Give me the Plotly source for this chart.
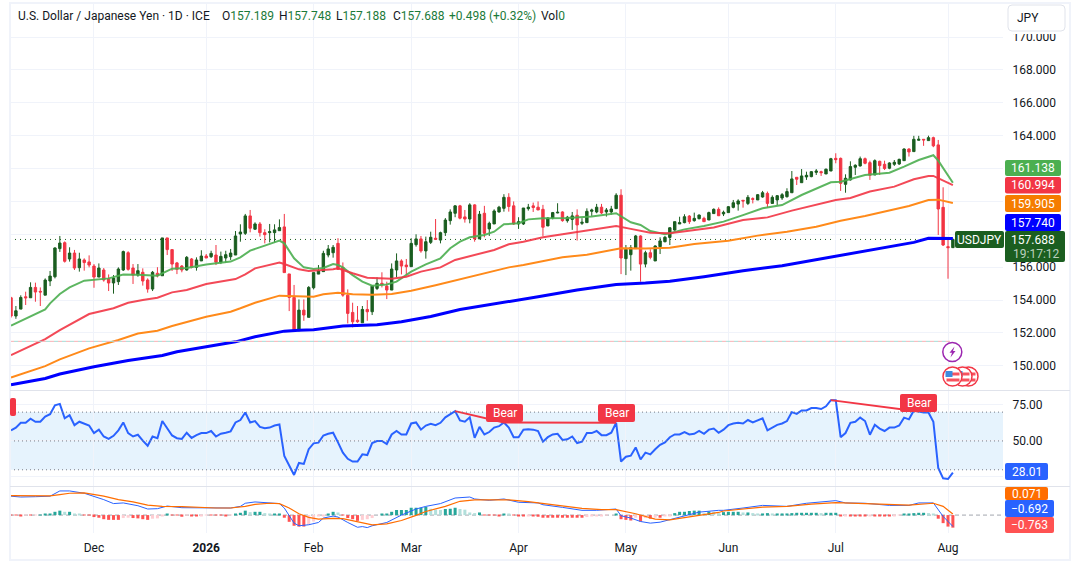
import pandas as pd
import plotly.graph_objects as go
from plotly.subplots import make_subplots

W, H = 1080, 577

# daily candles
opens = [
    154.14,153.03,153.45,154.2,154.14,154.77,154.53,154.3,155.16,155.42,
    157.13,157.49,156.5,156.86,155.97,156.44,156.32,156.07,155.4,155.83,
    155.3,155.04,155.12,155.83,156.88,155.95,155.52,155.69,155.22,154.67,
    155.63,155.48,157.78,157.07,156.26,156.07,155.83,156.5,155.99,156.38,
    156.68,156.64,156.74,156.3,156.56,156.64,156.74,158.02,158.06,159.12,
    158.31,158.63,158.1,158.1,158.1,158.22,158.45,155.59,154.16,152.13,
    153.39,152.95,154.75,155.58,155.73,156.74,156.88,157.45,155.99,154.3,
    153.25,152.78,152.62,153.43,153.29,154.71,155.02,154.85,154.61,155.83,
    156.38,156.13,156.03,157.37,157.72,156.99,157.51,157.76,157.65,158.1,
    158.83,159.28,159.73,159.06,158.93,159.79,157.72,159.28,158.33,158.63,
    159.36,159.58,160.25,159.73,158.63,158.63,159.56,159.73,159.65,159.52,
    158.51,158.99,159.3,159.36,158.83,158.91,159.16,158.67,158.71,159.4,
    159.36,159.65,159.36,159.36,159.56,160.38,156.52,156.76,157.13,157.9,
    156.19,156.88,156.38,157.25,157.55,157.81,158.26,158.63,158.71,159.11,
    158.83,158.95,158.97,158.87,159.26,159.52,159.24,159.32,159.64,159.84,
    160.07,159.88,160.17,160.09,160.27,160.49,159.88,160.09,160.21,160.29,
    160.53,161.47,161.14,161.49,161.51,161.77,161.81,161.67,161.85,162.62,
    162.62,161.04,161.31,162.08,162.16,162.6,162.36,161.61,162.44,162.26,
    162.02,162.26,162.28,162.48,163.19,163.03,163.72,163.78,163.7,163.88,
    163.44,159.64,157.25,157.189,
]
highs = [
    154.2,153.64,154.29,154.51,155.08,155.06,154.77,155.32,155.77,157.21,
    157.9,157.57,157.21,157.05,156.88,156.54,156.72,156.19,156.23,155.95,
    155.56,155.52,155.99,157.01,156.97,156.19,156.19,155.93,155.32,155.77,
    156.0,157.78,157.78,157.07,156.32,156.13,156.68,156.56,156.6,157.03,
    156.8,157.0,157.35,156.95,157.0,157.11,158.2,158.61,159.24,159.48,
    158.73,158.75,158.31,158.63,158.61,158.91,159.24,155.59,154.92,154.04,
    154.04,154.85,155.67,156.13,157.0,157.35,157.35,157.76,156.29,154.65,
    153.84,153.64,153.64,154.0,154.9,155.38,155.69,155.12,156.23,156.84,
    156.48,156.5,157.76,158.0,157.9,157.86,158.16,158.93,158.16,158.99,
    159.52,159.77,159.79,159.48,159.89,159.83,159.42,159.73,158.77,159.52,
    159.73,160.44,160.5,160.0,159.04,159.6,159.85,159.93,160.0,159.79,
    159.04,159.36,159.89,159.4,159.12,159.36,159.52,158.98,159.58,159.56,
    159.85,159.85,159.6,159.73,160.5,160.74,157.35,157.35,157.96,157.94,
    157.0,157.09,157.33,157.82,157.9,158.42,158.77,159.07,159.22,159.17,
    159.32,159.21,159.07,159.38,159.58,159.64,159.44,159.72,160.09,160.13,
    160.07,160.39,160.25,160.45,160.64,160.6,160.37,160.39,160.51,160.8,
    161.85,161.47,161.97,161.81,161.85,161.97,161.87,162.0,162.65,162.93,
    162.67,161.65,162.44,162.26,162.73,162.67,162.48,162.56,162.48,162.48,
    162.38,162.52,162.6,163.23,163.23,163.99,163.99,163.78,164.0,163.94,
    163.74,160.86,157.8,157.748,
]
lows = [
    152.93,152.86,153.45,153.7,154.14,153.9,153.64,154.3,154.85,155.32,
    156.93,156.28,156.34,155.83,155.73,155.79,155.99,154.75,155.4,155.12,
    154.55,154.39,154.92,155.77,155.79,154.98,155.42,154.88,154.45,154.55,
    155.38,155.48,156.74,155.77,155.58,155.69,155.79,155.93,155.79,156.38,
    156.56,156.56,156.13,156.19,156.28,156.44,156.74,157.55,157.96,158.12,
    158.27,157.86,157.45,157.51,157.51,158.22,155.67,153.33,152.13,152.13,
    152.74,152.95,154.65,155.58,155.73,156.6,156.58,155.87,154.2,152.58,
    152.34,152.62,152.62,152.74,153.09,154.61,154.77,154.06,154.61,155.38,
    155.56,155.52,156.03,157.25,156.88,156.52,157.41,157.65,157.45,157.9,
    158.59,159.04,158.91,158.71,158.67,157.55,157.72,157.82,157.9,158.63,
    159.32,159.38,159.38,158.57,158.33,158.57,159.44,159.36,159.48,157.9,
    158.51,158.91,159.28,158.77,158.71,158.27,157.62,158.57,158.71,159.12,
    159.28,159.24,159.08,159.2,159.56,155.58,155.52,155.79,157.13,155.12,
    155.99,156.48,156.38,156.8,157.51,157.35,158.22,158.63,158.67,158.63,
    158.77,158.91,158.75,158.87,159.24,159.11,159.11,159.32,159.58,159.44,
    159.62,159.78,159.88,160.09,160.23,159.64,159.88,159.78,160.09,160.23,
    160.53,161.0,161.14,161.31,161.47,161.61,161.55,161.67,161.85,162.32,
    160.64,160.53,161.27,161.61,162.12,162.26,161.31,161.61,161.61,161.91,
    161.96,162.16,162.22,162.48,162.73,163.03,163.7,163.38,163.7,163.3,
    157.96,157.29,155.3,157.188,
]
closes = [
    153.03,153.35,154.16,154.14,154.77,154.49,154.49,155.22,155.46,157.17,
    157.47,156.36,156.86,155.95,156.5,156.28,156.13,155.4,155.95,155.22,
    155.04,155.34,155.89,156.95,155.87,155.52,155.79,155.16,154.67,155.69,
    155.48,157.78,157.07,156.19,155.87,155.83,156.6,155.99,156.44,156.68,
    156.56,156.84,156.3,156.66,156.76,156.86,157.9,158.14,159.12,158.37,
    158.63,158.1,157.98,158.16,158.27,158.41,155.67,154.16,152.13,153.39,
    153.09,154.77,155.67,155.79,156.84,157.11,157.21,155.87,154.3,153.19,
    152.68,152.68,153.43,153.29,154.85,155.02,154.94,154.61,155.89,156.38,
    156.07,156.03,157.45,157.72,156.99,157.55,157.82,157.7,158.1,158.87,
    159.36,159.73,158.98,158.93,159.79,157.72,159.22,158.06,158.67,159.42,
    159.65,160.25,159.69,158.63,158.77,159.6,159.65,159.63,159.48,158.43,
    158.99,159.32,159.34,158.83,159.04,159.12,158.57,158.73,159.4,159.48,
    159.65,159.3,159.48,159.54,160.38,156.56,157.09,157.19,157.9,156.19,
    156.88,156.6,157.29,157.6,157.82,158.4,158.77,158.71,159.07,158.77,
    158.97,159.17,158.77,159.32,159.52,159.13,159.34,159.68,159.92,160.03,
    160.03,160.25,160.13,160.41,160.53,159.88,160.25,160.35,160.41,160.6,
    161.37,161.35,161.55,161.59,161.81,161.85,161.75,161.96,162.6,162.54,
    161.1,161.41,162.12,162.2,162.6,162.32,161.59,162.48,162.18,162.0,
    162.34,162.38,162.56,163.19,163.01,163.78,163.78,163.74,163.88,163.38,
    159.54,157.35,157.19,157.688,
]

# moving averages, read at the bends of each line
ma_green_idx = [0,7,8,10,12,15,20,23,26,30,33,36,40,45,47,49,52,55,56,58,60,62,64,66,67,68,70,72,74,77,79,82,85,88,90,92,94,97,99,101,104,106,109,114,119,124,127,129,131,134,135,138,142,146,150,154,158,162,168,170,175,180,183,186,189,190,193]
ma_green = [152.44,153.43,153.8,154.37,154.77,155.18,155.32,155.56,155.54,155.48,155.91,155.95,156.17,156.34,156.6,157.01,157.31,157.62,157.45,156.54,155.99,155.89,155.95,156.19,156.13,155.99,155.52,155.12,154.87,154.95,155.12,155.73,156.17,156.54,157.15,157.55,157.82,157.96,158.16,158.61,158.67,158.91,158.98,159.0,159.08,159.28,158.73,158.57,158.2,158.0,158.06,158.3,158.5,158.77,159.17,159.58,159.78,160.39,161.16,161.2,161.61,161.75,162.12,162.52,162.81,162.48,161.138]
ma_red_idx = [0,3,7,10,13,16,21,24,27,30,33,36,40,46,48,50,55,56,59,61,66,67,70,73,78,81,84,88,91,95,99,102,105,109,115,119,124,127,131,135,139,144,150,155,160,165,169,172,176,181,185,188,189,193]
ma_red = [150.65,151.06,151.63,152.17,152.64,153.15,153.5,153.84,154.0,154.14,154.47,154.61,154.98,155.28,155.56,155.93,156.28,156.19,155.87,155.77,155.87,155.93,155.63,155.36,155.3,155.42,155.73,155.99,156.44,156.74,157.05,157.39,157.55,157.82,158.1,158.31,158.51,158.33,158.1,158.06,158.2,158.42,158.87,159.03,159.44,159.78,160.09,160.21,160.6,160.9,161.35,161.55,161.55,160.994]
ma_orange_idx = [0,7,10,16,22,26,30,33,40,45,47,50,55,58,62,64,67,70,74,78,82,87,90,94,98,102,105,109,113,118,122,125,130,135,140,147,153,159,165,170,175,180,184,188,190,193]
ma_orange = [149.29,149.98,150.39,151.06,151.57,151.97,152.13,152.42,152.99,153.29,153.5,153.84,154.27,154.25,154.2,154.35,154.45,154.35,154.33,154.37,154.57,154.9,155.12,155.42,155.67,155.99,156.13,156.38,156.6,156.76,157.0,157.15,157.13,157.18,157.41,157.61,157.92,158.16,158.46,158.83,159.11,159.44,159.72,160.09,160.11,159.905]
ma_blue_idx = [0,7,10,17,24,31,34,40,46,50,56,59,62,68,75,80,86,92,100,108,116,124,130,135,142,150,158,165,170,175,180,185,188,190,193]
ma_blue = [148.85,149.23,149.5,149.94,150.33,150.63,150.86,151.18,151.46,151.77,152.11,152.17,152.19,152.42,152.5,152.68,153.0,153.43,153.8,154.2,154.61,154.95,155.04,155.15,155.42,155.78,156.09,156.47,156.74,156.98,157.25,157.51,157.76,157.77,157.74]

rsi = [
    57.37,59.27,62.6,62.6,65.46,63.32,63.32,66.89,68.56,74.74,75.7,65.7,67.84,60.94,63.32,62.13,60.7,55.47,
    57.85,53.09,51.42,53.56,57.37,62.84,55.47,53.09,54.28,50.23,46.66,53.09,51.9,63.8,58.56,53.8,51.9,51.42,
    55.7,52.13,54.04,55.47,55.47,56.9,53.09,55.0,55.7,56.66,62.84,64.51,69.75,62.84,63.8,59.75,58.8,59.27,
    60.7,61.42,39.52,33.09,26.43,34.76,34.05,44.28,48.33,48.8,53.8,55.0,55.7,49.04,41.9,37.6,35.71,35.71,
    40.71,40.23,48.56,49.99,49.99,47.85,54.51,56.9,54.51,54.51,62.13,62.84,57.85,60.7,61.89,60.94,62.6,66.41,
    68.56,70.7,64.27,63.32,66.41,52.13,59.75,54.51,56.18,59.27,60.23,62.84,59.27,52.61,52.61,57.85,58.08,57.85,
    56.9,49.52,52.61,54.51,54.99,50.71,51.18,53.09,48.56,49.52,55.47,55.47,56.9,54.04,54.04,55.7,62.6,35.71,
    39.04,39.76,45.47,37.14,41.9,40.71,44.28,47.37,49.04,52.61,54.51,54.51,56.18,54.51,54.99,56.9,54.99,57.85,
    58.56,55.7,57.86,60.95,62.14,62.62,62.14,64.52,62.85,64.52,65.71,57.38,59.28,61.19,62.14,63.81,70.0,68.8,
    71.18,71.18,72.85,72.85,72.14,74.04,78.32,78.32,52.62,55.48,62.62,63.33,66.19,63.81,54.29,61.19,58.57,56.9,
    59.28,59.28,60.71,66.19,64.99,71.18,70.47,69.76,69.76,63.33,31.2,24.06,23.58,28.01,
]
# divergence lines on the RSI, each as two bar index / value pairs
bear_lines = [((91, 70.7), (101, 62.84)), ((101, 62.84), (124, 62.6)), ((168, 78.32), (186, 70.47))]

macd_idx = [0,2,5,8,10,12,15,17,19,21,23,26,28,30,32,35,39,42,45,47,48,50,52,55,56,57,58,59,61,63,64,66,67,69,71,
            72,73,74,77,80,83,85,88,91,94,95,98,101,104,108,109,113,117,120,124,125,127,129,131,133,136,138,141,145,
            146,150,154,159,163,169,171,175,180,184,186,189,191,193]
macd = [1.15,1.1,1.12,1.15,1.47,1.47,1.33,1.15,0.94,0.7,0.74,0.57,0.37,0.39,0.55,0.45,0.43,0.41,0.43,0.53,0.72,0.8,0.76,0.7,0.43,-0.04,-0.49,-0.65,-0.59,-0.45,-0.18,-0.06,-0.12,-0.45,-0.74,
        -0.7,-0.76,-0.65,-0.45,0.0,0.37,0.53,0.7,1.04,1.1,0.98,0.9,0.98,0.78,0.74,0.63,0.47,0.29,0.29,0.37,-0.04,-0.18,-0.39,-0.49,-0.43,-0.2,-0.04,0.18,0.29,
        0.29,0.43,0.59,0.53,0.72,0.88,0.74,0.72,0.59,0.59,0.74,0.74,-0.08,-0.692]
signal_idx = [0,5,8,10,12,15,17,19,22,25,28,31,35,39,42,45,48,50,53,55,57,59,61,63,66,68,70,
              72,74,77,80,83,85,89,92,95,99,102,106,109,113,117,121,124,128,132,135,140,145,
              146,150,154,159,164,169,175,180,184,189,191,193]
signal = [1.19,1.15,1.17,1.25,1.33,1.35,1.27,1.15,0.94,0.8,0.61,0.53,0.51,0.45,0.43,0.43,0.53,0.65,0.72,0.7,0.43,0.08,-0.14,-0.25,-0.2,-0.22,-0.35,
          -0.49,-0.59,-0.53,-0.33,-0.02,0.22,0.53,0.84,0.92,0.9,0.92,0.82,0.7,0.57,0.41,0.33,0.33,0.08,-0.25,-0.29,-0.08,0.16,
          0.25,0.37,0.49,0.53,0.67,0.76,0.7,0.61,0.61,0.72,0.53,0.071]
hist = [
    -0.02,-0.02,-0.03,-0.02,-0.02,-0.01,0.02,0.04,0.08,0.2,0.27,0.2,0.2,0.08,0.06,-0.02,-0.02,-0.12,
    -0.16,-0.25,-0.29,-0.29,-0.29,-0.18,-0.16,-0.18,-0.2,-0.25,-0.29,-0.22,-0.2,-0.04,0.08,-0.02,-0.02,-0.1,
    -0.02,-0.04,-0.08,-0.04,-0.02,-0.02,-0.02,-0.02,-0.04,-0.02,0.08,0.14,0.27,0.18,0.2,0.2,0.12,0.08,
    0.08,0.08,-0.16,-0.41,-0.65,-0.7,-0.7,-0.59,-0.39,-0.08,-0.04,0.08,0.2,0.16,-0.02,-0.18,-0.25,-0.35,
    -0.29,-0.25,-0.18,0.0,0.06,0.08,0.2,0.31,0.31,0.31,0.45,0.45,0.45,0.49,0.39,0.33,0.31,0.37,
    0.39,0.45,0.37,0.33,0.16,0.12,0.16,-0.02,-0.02,-0.02,-0.04,0.08,0.04,-0.02,-0.08,-0.08,-0.06,-0.06,
    -0.1,-0.16,-0.16,-0.16,-0.16,-0.16,-0.16,-0.16,-0.16,-0.16,-0.12,-0.08,-0.06,-0.04,-0.02,0.0,0.08,-0.25,
    -0.29,-0.33,-0.16,-0.39,-0.18,-0.22,-0.16,-0.16,-0.08,-0.04,0.12,0.2,0.2,0.25,0.27,0.27,0.12,0.22,
    0.2,0.12,0.18,0.2,0.2,0.2,0.16,0.16,0.12,0.1,0.1,0.12,0.1,0.1,0.1,0.1,0.12,0.14,
    0.14,0.14,0.14,0.14,0.12,0.14,0.14,0.14,-0.08,-0.04,-0.04,-0.04,-0.04,-0.08,-0.04,-0.08,-0.08,-0.08,
    -0.08,-0.06,-0.02,0.08,0.08,0.12,0.14,0.14,0.12,0.08,-0.22,-0.49,-0.7,-0.763,
]

month_labels = ["Dec", "<b>2026</b>", "Feb", "Mar", "Apr", "May", "Jun", "Jul", "Aug"]
month_dates = ["2025-12-01", "2026-01-01", "2026-02-02", "2026-03-02", "2026-04-01", "2026-05-01", "2026-06-01", "2026-07-01", "2026-08-03"]
price_ticks = [150, 152, 154, 156, 158, 160, 162, 164, 166, 168, 170]
# 158 to 162 sit behind the value tags
price_labels = ["150.000", "152.000", "154.000", "156.000", "", "", "", "164.000", "166.000", "168.000", "170.000"]

GRID = "#f0f3fa"
SEP = "#e0e3eb"
TXT = "#131722"
FONT = "Roboto"
UP = "#1b5e20"
DOWN = "#f23645"

# bars run on weekdays only, the axis is drawn on the bar number
dates = pd.bdate_range("2025-11-06", periods=len(closes))
bars = list(range(len(closes)))
month_ticks = [list(dates).index(pd.Timestamp(d)) for d in month_dates]


def px(x):
    return x / W


def py(y):
    return 1 - y / H


def rrect(x0, y0, x1, y1, r=2):
    # rounded box, in pixels of the page
    pts = f"M{px(x0+r)},{py(y0)} L{px(x1-r)},{py(y0)} Q{px(x1)},{py(y0)} {px(x1)},{py(y0+r)} "
    pts += f"L{px(x1)},{py(y1-r)} Q{px(x1)},{py(y1)} {px(x1-r)},{py(y1)} "
    pts += f"L{px(x0+r)},{py(y1)} Q{px(x0)},{py(y1)} {px(x0)},{py(y1-r)} "
    pts += f"L{px(x0)},{py(y0+r)} Q{px(x0)},{py(y0)} {px(x0+r)},{py(y0)} Z"
    return pts


fig = make_subplots(rows=3, cols=1, shared_xaxes=True)

fig.add_trace(go.Scatter(x=ma_green_idx, y=ma_green, mode="lines", line=dict(color="#4caf50", width=2), opacity=0.9), row=1, col=1)
fig.add_trace(go.Scatter(x=ma_red_idx, y=ma_red, mode="lines", line=dict(color="#f23645", width=2), opacity=0.9), row=1, col=1)
fig.add_trace(go.Scatter(x=ma_orange_idx, y=ma_orange, mode="lines", line=dict(color="#ff8a1a", width=2)), row=1, col=1)
fig.add_trace(go.Scatter(x=ma_blue_idx, y=ma_blue, mode="lines", line=dict(color="#0000ff", width=3)), row=1, col=1)
fig.add_trace(go.Candlestick(
    x=bars, open=opens, high=highs, low=lows, close=closes,
    increasing=dict(line=dict(color=UP, width=1), fillcolor=UP),
    decreasing=dict(line=dict(color=DOWN, width=1), fillcolor=DOWN),
    whiskerwidth=0,
), row=1, col=1)

fig.add_trace(go.Scatter(x=bars, y=rsi, mode="lines", line=dict(color="#2962ff", width=2)), row=2, col=1)
for a, b in bear_lines:
    fig.add_trace(go.Scatter(x=[a[0], b[0]], y=[a[1], b[1]], mode="lines", line=dict(color=DOWN, width=2)), row=2, col=1)

# histogram colour follows sign and direction
hist_colors = []
for i, v in enumerate(hist):
    prev = hist[i - 1] if i else 0
    if v >= 0:
        hist_colors.append("#26a69a" if v >= prev else "#b2dfdb")
    else:
        hist_colors.append("#ff5252" if v <= prev else "#ffcdd2")
fig.add_trace(go.Bar(x=bars, y=hist, marker=dict(color=hist_colors, line_width=0), width=0.62), row=3, col=1)
fig.add_trace(go.Scatter(x=macd_idx, y=macd, mode="lines", line=dict(color="#2962ff", width=1)), row=3, col=1)
fig.add_trace(go.Scatter(x=signal_idx, y=signal, mode="lines", line=dict(color="#ff6d00", width=1.2)), row=3, col=1)

shapes = []
# dashed and dotted levels on the price pane, pink and teal dashes take turns
shapes.append(dict(type="line", xref="paper", yref="y", x0=px(10), x1=px(950), y0=151.49, y1=151.49, line=dict(color="#f7b0b5", width=1, dash="4px,4px")))
shapes.append(dict(type="line", xref="paper", yref="y", x0=px(14), x1=px(950), y0=151.49, y1=151.49, line=dict(color="#a5dbd4", width=1, dash="4px,4px")))
shapes.append(dict(type="line", xref="paper", yref="y", x0=px(10), x1=px(955), y0=157.688, y1=157.688, line=dict(color=UP, width=1, dash="1px,4px"), layer="below"))
# RSI band
shapes.append(dict(type="rect", xref="paper", yref="y2", x0=px(10), x1=px(1003), y0=30, y1=70, fillcolor="#e3f2fd", line_width=0, layer="below", opacity=0.9))
for level in [70, 50, 30]:
    shapes.append(dict(type="line", xref="paper", yref="y2", x0=px(10), x1=px(1003), y0=level, y1=level, line=dict(color="#787b86", width=1, dash="1px,3px")))
# MACD zero
shapes.append(dict(type="line", xref="paper", yref="y3", x0=px(10), x1=px(1003), y0=0, y1=0, line=dict(color="#a3a6af", width=1, dash="4px,3px"), layer="below"))

# frame and pane separators
shapes.append(dict(type="rect", xref="paper", yref="paper", x0=px(10), x1=px(1070), y0=py(560), y1=py(3), line=dict(color=GRID, width=2)))
for y in [390.5, 486.5]:
    shapes.append(dict(type="line", xref="paper", yref="paper", x0=px(10), x1=px(1070), y0=py(y), y1=py(y), line=dict(color=SEP, width=1)))

annotations = []


def note(x, y, text, color=TXT, anchor="center"):
    annotations.append(dict(xref="paper", yref="paper", x=px(x), y=py(y), text=text, showarrow=False,
                            xanchor=anchor, yanchor="middle", font=dict(family=FONT, size=12, color=color)))


def tag(x0, y0, x1, y1, color, label):
    shapes.append(dict(type="path", xref="paper", yref="paper", path=rrect(x0, y0, x1, y1), fillcolor=color, line_width=0))
    if label:
        note((x0 + x1) / 2, (y0 + y1) / 2, label, "white")


# JPY box on top of the axis, it cuts the top off the 170 label
shapes.append(dict(type="rect", xref="paper", yref="paper", x0=px(1006), x1=px(1066), y0=py(34), y1=py(28), fillcolor="white", line_width=0))
shapes.append(dict(type="path", xref="paper", yref="paper", path=rrect(1008, 5, 1065, 31, 4), fillcolor="white", line=dict(color=SEP, width=1)))
note(1015, 18, "JPY", anchor="left")

tag(1005, 160, 1061, 176, "#4caf50", "161.138")
tag(1005, 177, 1061, 193.5, DOWN, "160.994")
tag(1005, 195, 1061, 212, "#f57c00", "159.905")
tag(1005, 214, 1061, 231, "#0000ff", "157.740")
tag(955, 231, 1004, 248, UP, "USDJPY")
tag(1005, 231, 1065, 262, UP, "")
note(1033, 239.5, "157.688", "white")
note(1036, 253.5, "19:17:12", "#bcd0be")

tag(1005, 463, 1048, 480, "#2962ff", "28.01")
tag(1005, 487, 1048, 500, "#ff6d00", "0.071")
tag(1005, 500, 1054, 517, "#2962ff", "\u22120.692")
tag(1005, 517, 1054, 533, "#ff5252", "\u22120.763")

tag(486, 404, 523, 422, DOWN, "Bear")
tag(598, 404, 635, 422, DOWN, "Bear")
tag(900, 394, 937, 412, DOWN, "Bear")
tag(10, 398, 16, 416, DOWN, "")

# header line
note(15.5, 16, "U.S. Dollar / Japanese Yen \u00b7 1D \u00b7 ICE", anchor="left")
head_green = "#1b7a3a"
for x, lab, val in [(220, "O", "157.189"), (277, "H", "157.748"), (334, "L", "157.188"), (391, "C", "157.688")]:
    note(x, 16, f"{lab}<span style='color:{head_green}'>{val}</span>", anchor="left")
note(447, 16, "+0.498 (+0.32%)", head_green, anchor="left")
note(539, 16, f"Vol<span style='color:{head_green}'>0</span>", anchor="left")


def circle(cx, cy, r, line, fill="white", w=1.5):
    shapes.append(dict(type="circle", xref="paper", yref="paper", x0=px(cx - r), x1=px(cx + r), y0=py(cy + r), y1=py(cy - r),
                       fillcolor=fill, line=dict(color=line, width=w)))


def box(x0, y0, x1, y1, color):
    shapes.append(dict(type="rect", xref="paper", yref="paper", x0=px(x0), x1=px(x1), y0=py(y1), y1=py(y0), fillcolor=color, line_width=0))


# economic calendar icons under the last bars
circle(952.3, 352, 9.5, "#9c27b0")
bolt = [(954.5, 346.5), (949.5, 352.8), (952, 352.8), (950.5, 357.5), (955.5, 351), (953, 351)]
shapes.append(dict(type="path", xref="paper", yref="paper", fillcolor="#9c27b0", line_width=0,
                   path="M" + " L".join(f"{px(a)},{py(b)}" for a, b in bolt) + " Z"))
for cx in [968.5, 962.5, 952.5]:
    circle(cx, 376.5, 9.5, DOWN)
    box(cx - 6, 372.5, cx + 7, 375.5, "#f7525f")
    box(cx - 6, 378.5, cx + 7, 381.5, "#f7525f")
    box(cx - 7, 371, cx, 377, "#3d8bdf")

fig.update_layout(
    width=W, height=H, margin=dict(l=0, r=0, t=0, b=0),
    paper_bgcolor="white", plot_bgcolor="white",
    showlegend=False, hovermode=False, dragmode=False, bargap=0.35,
    font=dict(family=FONT, size=12, color=TXT),
    shapes=shapes, annotations=annotations,
)

x_range = [-0.21, 203.27]
for r in (1, 2, 3):
    fig.update_xaxes(row=r, col=1, domain=[px(10), px(1003)], range=x_range, tickmode="array", tickvals=month_ticks,
                     ticktext=month_labels, showgrid=True, gridcolor=GRID, gridwidth=1, zeroline=False,
                     showline=False, rangeslider_visible=False, fixedrange=True)
fig.update_xaxes(row=3, col=1, showticklabels=True, ticks="outside", ticklen=4, tickcolor="rgba(0,0,0,0)",
                 tickfont=dict(family=FONT, size=12, color=TXT))

axis_common = dict(side="right", showline=False, zeroline=False, gridcolor=GRID, gridwidth=1, fixedrange=True,
                   ticks="outside", ticklen=6, tickcolor="rgba(0,0,0,0)", tickfont=dict(family=FONT, size=12, color=TXT))
fig.update_yaxes(row=1, col=1, domain=[py(390.5), py(3)], range=[148.5, 172.07], tickvals=price_ticks,
                 ticktext=price_labels, **axis_common)
fig.update_yaxes(row=2, col=1, domain=[py(486.5), py(390.5)], range=[18.4, 85], tickvals=[25, 50, 75],
                 ticktext=["", "50.00", "75.00"], **axis_common)
fig.update_yaxes(row=3, col=1, domain=[py(533), py(486.5)], range=[-1.09, 1.74], showticklabels=False, showgrid=False,
                 side="right", zeroline=False, fixedrange=True)

fig.write_html("out.html", post_script="document.body.style.margin='0';", config=dict(displayModeBar=False))
